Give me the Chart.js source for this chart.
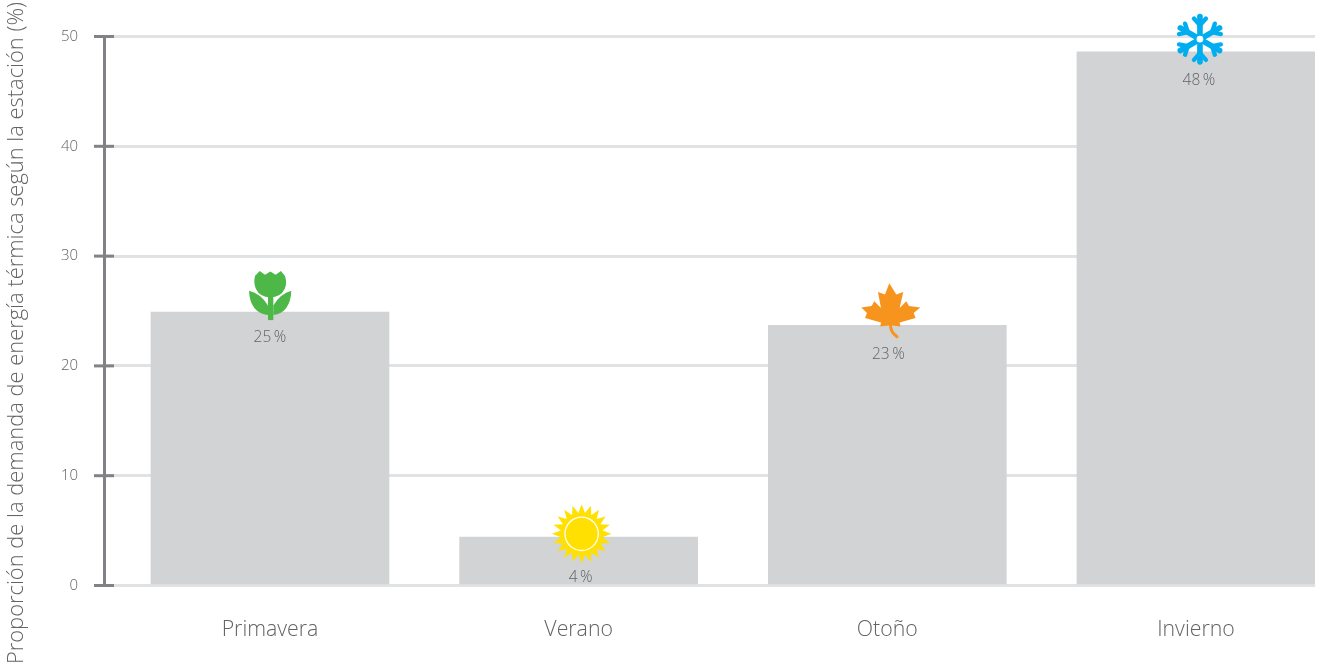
<!DOCTYPE html>
<html lang="es">
<head>
<meta charset="utf-8">
<title>Demanda de energía térmica según la estación</title>
<script src="https://cdn.jsdelivr.net/npm/chart.js@4"></script>
<style>
  html, body { margin: 0; padding: 0; background: #fff; overflow: hidden; }
  canvas { display: block; }
</style>
</head>
<body>
<canvas id="chart" width="1322" height="666"></canvas>
<script>
const seasons = ['Primavera', 'Verano', 'Otoño', 'Invierno'];
const demandShare = [24.9, 4.4, 23.7, 48.6];
const shareLabels = ['25\u2009%', '4\u2009%', '23\u2009%', '48\u2009%'];
const yTicks = [0, 10, 20, 30, 40, 50];
const yTitle = 'Proporción de la demanda de energía térmica según la estación (%)';

const FONT = '"Open Sans", sans-serif';
const TEXT_COLOR = '#626366';
const AXIS_COLOR = '#808285';
const GRID_COLOR = '#e1e2e3';
const BAR_COLOR = '#d1d3d4';

// dibujos de los iconos, en unidades del recorte (3x) con origen en la cima de la barra
function drawTulip(ctx) {
    ctx.fillStyle = '#4db848';
    ctx.fill(new Path2D('M117 33 L133 44 L149 34 L165 44 L181 33 L193 48 Q200 70 192 87 Q180 112 149 112 Q118 112 106 87 Q98 70 103 48 Z'));
    ctx.fillRect(142, 100, 16, 80);
    ctx.fill(new Path2D('M85 92 Q120 100 142 136 L142 165 Q88 158 85 92 Z'));
    ctx.fill(new Path2D('M212 92 Q180 100 158 136 L158 165 Q209 158 212 92 Z'));
}

function drawSun(ctx) {
    const cx = 157, cy = 116;
    ctx.fillStyle = '#ffe000';
    ctx.beginPath();
    for (let i = 0; i < 40; i++) {
        const r = i % 2 === 0 ? 89 : 63;
        const a = i * Math.PI / 20;
        ctx.lineTo(cx + r * Math.sin(a), cy - r * Math.cos(a));
    }
    ctx.closePath();
    ctx.fill();
    ctx.fillStyle = '#ffffff';
    ctx.beginPath();
    ctx.arc(cx, cy, 52, 0, Math.PI * 2);
    ctx.fill();
    ctx.fillStyle = '#ffe000';
    ctx.beginPath();
    ctx.arc(cx, cy, 48, 0, Math.PI * 2);
    ctx.fill();
}

function drawLeaf(ctx) {
    ctx.fillStyle = '#f7941d';
    ctx.strokeStyle = '#f7941d';
    ctx.fill(new Path2D('M147 24 L168 58 L189 50 L178 98 L198 78 L206 92 L240 97 L220 113 L226 128 L178 142 L180 154 L150 150 L120 154 L122 142 L74 128 L80 113 L63 97 L94 92 L102 78 L122 98 L113 50 L134 58 Z'));
    ctx.lineWidth = 9;
    ctx.lineCap = 'round';
    ctx.stroke(new Path2D('M150 145 Q150 172 170 184'));
}

function drawSnowflake(ctx) {
    const cx = 150, cy = 103;
    ctx.strokeStyle = '#00aeef';
    ctx.lineCap = 'round';
    for (let i = 0; i < 6; i++) {
        ctx.save();
        ctx.translate(cx, cy);
        ctx.rotate(i * Math.PI / 3);
        ctx.lineWidth = 17;
        ctx.beginPath();
        ctx.moveTo(0, 0);
        ctx.lineTo(0, -68);
        ctx.stroke();
        ctx.lineWidth = 13;
        ctx.beginPath();
        ctx.moveTo(-18, -62);
        ctx.lineTo(0, -42);
        ctx.lineTo(18, -62);
        ctx.stroke();
        ctx.restore();
    }
    ctx.fillStyle = '#ffffff';
    ctx.beginPath();
    ctx.arc(cx, cy, 10, 0, Math.PI * 2);
    ctx.fill();
}

const seasonIcons = [
    { draw: drawTulip, ox: 148, oy: 156, labelDx: 0, labelDy: 25 },
    { draw: drawSun, ox: 148, oy: 126, labelDx: 2, labelDy: 40 },
    { draw: drawLeaf, ox: 141, oy: 150, labelDx: 1, labelDy: 29 },
    { draw: drawSnowflake, ox: 138, oy: 141, labelDx: 3, labelDy: 29 }
];

const decorations = {
    id: 'decorations',
    afterDraw(chart) {
        const { ctx, scales: { y }, chartArea } = chart;
        ctx.save();

        // marcas del eje Y, cruzan la línea del eje
        ctx.strokeStyle = AXIS_COLOR;
        ctx.lineWidth = 3;
        yTicks.forEach(t => {
            const py = y.getPixelForValue(t);
            ctx.beginPath();
            ctx.moveTo(chartArea.left - 10, py);
            ctx.lineTo(chartArea.left + 10, py);
            ctx.stroke();
        });

        // iconos y porcentajes sobre cada barra
        chart.getDatasetMeta(0).data.forEach((bar, i) => {
            const icon = seasonIcons[i];
            ctx.save();
            ctx.translate(bar.x, bar.y);
            ctx.scale(1 / 3, 1 / 3);
            ctx.translate(-icon.ox, -icon.oy);
            icon.draw(ctx);
            ctx.restore();

            ctx.fillStyle = TEXT_COLOR;
            ctx.font = '300 15.5px ' + FONT;
            ctx.textAlign = 'center';
            ctx.textBaseline = 'middle';
            ctx.fillText(shareLabels[i], bar.x + icon.labelDx, bar.y + icon.labelDy);
        });

        // título del eje Y, centrado en la altura de la página
        ctx.translate(17, 333);
        ctx.rotate(-Math.PI / 2);
        ctx.fillStyle = TEXT_COLOR;
        ctx.font = '300 21.9px ' + FONT;
        ctx.textAlign = 'center';
        ctx.textBaseline = 'middle';
        ctx.fillText(yTitle, 0, 0);
        ctx.restore();
    }
};

new Chart(document.getElementById('chart'), {
    type: 'bar',
    data: {
        datasets: [{
            data: demandShare.map((v, i) => ({ x: i, y: v })),
            backgroundColor: BAR_COLOR,
            borderWidth: 0,
            barThickness: 238
        }]
    },
    options: {
        responsive: false,
        animation: false,
        layout: { padding: { top: 36.5, left: 0, right: 7, bottom: 0 } },
        plugins: {
            legend: { display: false },
            tooltip: { enabled: false }
        },
        scales: {
            x: {
                type: 'linear',
                offset: false,
                min: -0.5378,
                max: 3.3857,
                afterBuildTicks: scale => { scale.ticks = seasons.map((s, i) => ({ value: i })); },
                afterFit: scale => { scale.height = 80.5; },
                grid: { display: false, offset: false },
                border: { display: false },
                ticks: {
                    callback: v => seasons[v],
                    padding: 24,
                    maxRotation: 0,
                    color: TEXT_COLOR,
                    font: { family: FONT, size: 21.3, weight: '300' }
                }
            },
            y: {
                min: 0,
                max: 50,
                afterBuildTicks: scale => { scale.ticks = yTicks.map(v => ({ value: v })); },
                afterFit: scale => { scale.width = 104; },
                grid: { color: GRID_COLOR, lineWidth: 3, drawTicks: false },
                border: { color: AXIS_COLOR, width: 3 },
                ticks: {
                    padding: 26,
                    color: TEXT_COLOR,
                    font: { family: FONT, size: 15, weight: '300' }
                }
            }
        }
    },
    plugins: [decorations]
});
</script>
</body>
</html>
